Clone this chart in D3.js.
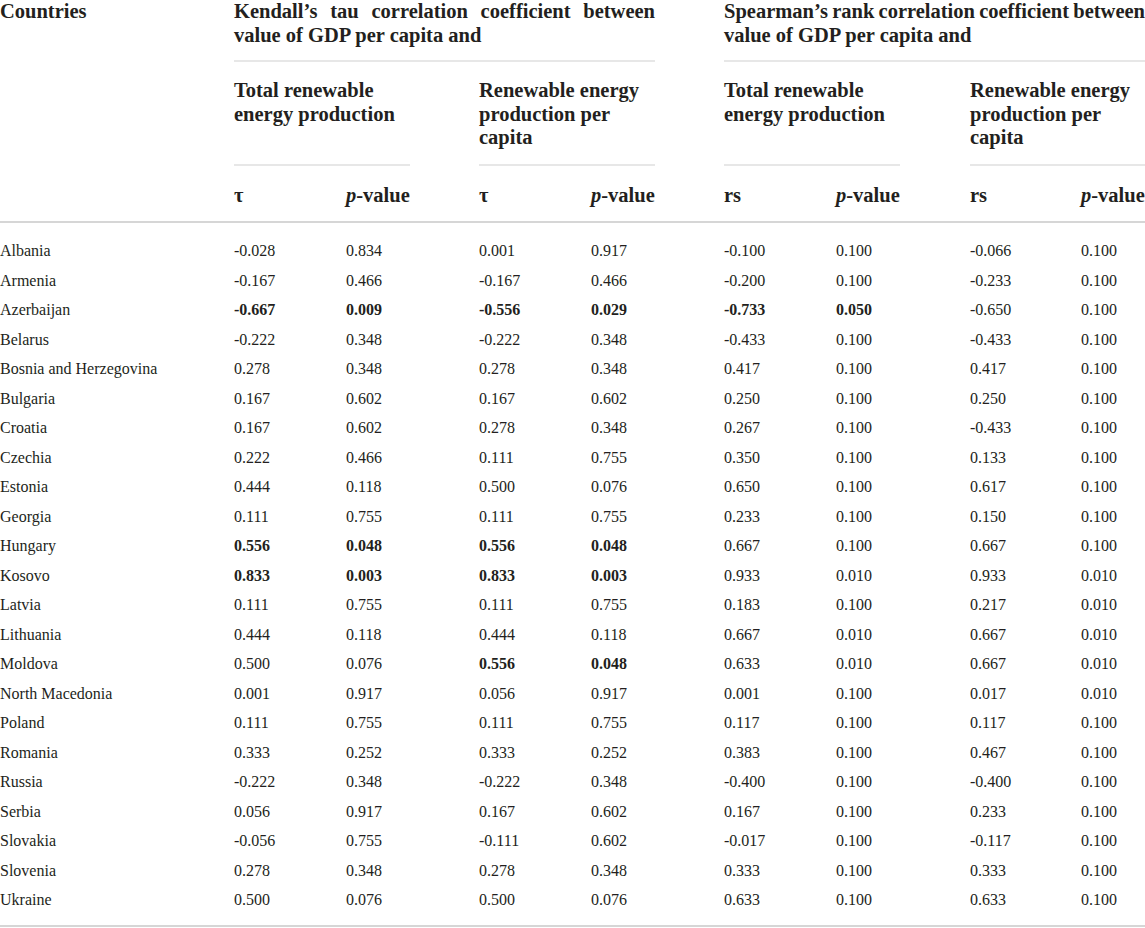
<!DOCTYPE html>
<html>
<head>
<meta charset="utf-8">
<script src="https://cdn.jsdelivr.net/npm/d3@7"></script>
<style>
  body { margin: 0; background: #fff; }
  text { font-family: "Liberation Serif", "Times New Roman", serif; fill: #231f20; }
  .head { font-weight: bold; font-size: 20.5px; }
  .cell { font-size: 16px; }
</style>
</head>
<body>
<div id="chart"></div>
<script>
// Table data
const countries = ["Albania", "Armenia", "Azerbaijan", "Belarus", "Bosnia and Herzegovina", "Bulgaria", "Croatia",
    "Czechia", "Estonia", "Georgia", "Hungary", "Kosovo", "Latvia", "Lithuania", "Moldova", "North Macedonia",
    "Poland", "Romania", "Russia", "Serbia", "Slovakia", "Slovenia", "Ukraine"];

const kendallTotalTau = [-0.028, -0.167, -0.667, -0.222, 0.278, 0.167, 0.167, 0.222, 0.444, 0.111, 0.556, 0.833, 0.111, 0.444, 0.500, 0.001, 0.111, 0.333, -0.222, 0.056, -0.056, 0.278, 0.500];
const kendallTotalP = [0.834, 0.466, 0.009, 0.348, 0.348, 0.602, 0.602, 0.466, 0.118, 0.755, 0.048, 0.003, 0.755, 0.118, 0.076, 0.917, 0.755, 0.252, 0.348, 0.917, 0.755, 0.348, 0.076];
const kendallPcTau = [0.001, -0.167, -0.556, -0.222, 0.278, 0.167, 0.278, 0.111, 0.500, 0.111, 0.556, 0.833, 0.111, 0.444, 0.556, 0.056, 0.111, 0.333, -0.222, 0.167, -0.111, 0.278, 0.500];
const kendallPcP = [0.917, 0.466, 0.029, 0.348, 0.348, 0.602, 0.348, 0.755, 0.076, 0.755, 0.048, 0.003, 0.755, 0.118, 0.048, 0.917, 0.755, 0.252, 0.348, 0.602, 0.602, 0.348, 0.076];
const spearTotalRs = [-0.100, -0.200, -0.733, -0.433, 0.417, 0.250, 0.267, 0.350, 0.650, 0.233, 0.667, 0.933, 0.183, 0.667, 0.633, 0.001, 0.117, 0.383, -0.400, 0.167, -0.017, 0.333, 0.633];
const spearTotalP = [0.100, 0.100, 0.050, 0.100, 0.100, 0.100, 0.100, 0.100, 0.100, 0.100, 0.100, 0.010, 0.100, 0.010, 0.010, 0.100, 0.100, 0.100, 0.100, 0.100, 0.100, 0.100, 0.100];
const spearPcRs = [-0.066, -0.233, -0.650, -0.433, 0.417, 0.250, -0.433, 0.133, 0.617, 0.150, 0.667, 0.933, 0.217, 0.667, 0.667, 0.017, 0.117, 0.467, -0.400, 0.233, -0.117, 0.333, 0.633];
const spearPcP = [0.100, 0.100, 0.100, 0.100, 0.100, 0.100, 0.100, 0.100, 0.100, 0.100, 0.100, 0.010, 0.010, 0.010, 0.010, 0.010, 0.100, 0.100, 0.100, 0.100, 0.100, 0.100, 0.100];

// significant cells printed in bold: [country, column index]
const boldCells = [
    ["Azerbaijan", 0], ["Azerbaijan", 1], ["Azerbaijan", 2], ["Azerbaijan", 3], ["Azerbaijan", 4], ["Azerbaijan", 5],
    ["Hungary", 0], ["Hungary", 1], ["Hungary", 2], ["Hungary", 3],
    ["Kosovo", 0], ["Kosovo", 1], ["Kosovo", 2], ["Kosovo", 3],
    ["Moldova", 2], ["Moldova", 3]
];

const groupTitles = [
    ["Kendall\u2019s tau correlation coefficient between", "value of GDP per capita and"],
    ["Spearman\u2019s rank correlation coefficient between", "value of GDP per capita and"]
];
const subTitles = [
    ["Total renewable", "energy production"],
    ["Renewable energy", "production per", "capita"],
    ["Total renewable", "energy production"],
    ["Renewable energy", "production per", "capita"]
];
const colLabels = ["\u03c4", "p", "\u03c4", "p", "rs", "p", "rs", "p"];

const columns = [kendallTotalTau, kendallTotalP, kendallPcTau, kendallPcP, spearTotalRs, spearTotalP, spearPcRs, spearPcP];

// Size of the page
const width = 1145, height = 928;

const svg = d3.select("#chart")
    .append("svg")
    .attr("width", width)
    .attr("height", height);

// Scales: rows by country, columns by index
const y = d3.scalePoint().domain(countries).range([256, 905]);
const x = d3.scaleOrdinal().domain(d3.range(8)).range([234, 346, 479, 591, 724, 836, 970, 1081]);
const groupX = d3.scaleOrdinal().domain([0, 1]).range([234, 724]);
const subX = d3.scaleOrdinal().domain(d3.range(4)).range([234, 479, 724, 970]);
const groupWidth = 421, subWidth = 176;

const fmt = d3.formatLocale({ decimal: ".", thousands: ",", grouping: [3], currency: ["", ""], minus: "-" }).format(".3f");

// Rule lines
const lineColor = "#cfcfcf";
svg.selectAll(".group-rule")
    .data([0, 1])
    .enter().append("line")
    .attr("x1", d => groupX(d)).attr("x2", d => groupX(d) + groupWidth)
    .attr("y1", 61).attr("y2", 61)
    .attr("stroke", lineColor).attr("stroke-width", 1.2);

svg.selectAll(".sub-rule")
    .data(d3.range(4))
    .enter().append("line")
    .attr("x1", d => subX(d)).attr("x2", d => subX(d) + subWidth)
    .attr("y1", 165).attr("y2", 165)
    .attr("stroke", lineColor).attr("stroke-width", 1.2);

[222, 926].forEach(yy => {
    svg.append("line")
        .attr("x1", 0).attr("x2", width)
        .attr("y1", yy).attr("y2", yy)
        .attr("stroke", "#d6d6d6").attr("stroke-width", 2);
});

// Header texts
svg.append("text").attr("class", "head").attr("x", 0).attr("y", 18).text("Countries");

groupTitles.forEach((lines, g) => {
    lines.forEach((line, i) => {
        const t = svg.append("text")
            .attr("class", "head")
            .attr("x", groupX(g))
            .attr("y", 18 + i * 23.5)
            .text(line);
        if (i === 0) {
            // justify the first line to the column width
            const spaces = line.split(" ").length - 1;
            const extra = (groupWidth - t.node().getComputedTextLength()) / spaces;
            t.style("word-spacing", extra + "px");
        }
    });
});

subTitles.forEach((lines, s) => {
    svg.selectAll(null)
        .data(lines)
        .enter().append("text")
        .attr("class", "head")
        .attr("x", subX(s))
        .attr("y", (d, i) => 97 + i * 23.5)
        .text(d => d);
});

colLabels.forEach((lab, c) => {
    const t = svg.append("text")
        .attr("class", "head")
        .attr("x", x(c))
        .attr("y", 202);
    if (lab === "p") {
        t.append("tspan").style("font-style", "italic").text("p");
        t.append("tspan").text("-value");
    } else {
        t.text(lab);
    }
});

// Body rows
svg.selectAll(".country")
    .data(countries)
    .enter().append("text")
    .attr("class", "cell")
    .attr("x", 0)
    .attr("y", d => y(d))
    .text(d => d);

const isBold = (country, c) => boldCells.some(b => b[0] === country && b[1] === c);

columns.forEach((values, c) => {
    svg.selectAll(null)
        .data(values)
        .enter().append("text")
        .attr("class", "cell")
        .attr("x", x(c))
        .attr("y", (d, i) => y(countries[i]))
        .style("font-weight", (d, i) => isBold(countries[i], c) ? "bold" : "normal")
        .text(d => fmt(d));
});
</script>
</body>
</html>
